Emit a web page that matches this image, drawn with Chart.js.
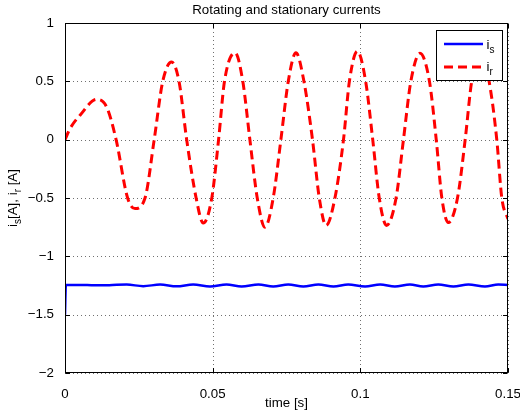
<!DOCTYPE html>
<html>
<head>
<meta charset="utf-8">
<script src="https://cdn.jsdelivr.net/npm/chart.js@4.4.1/dist/chart.umd.min.js"></script>
<style>
  html, body { margin: 0; padding: 0; background: #fff; }
  canvas { display: block; }
</style>
</head>
<body>
<canvas id="currents" width="520" height="418"></canvas>
<script>
const FONT = '"Liberation Sans", Arial, Helvetica, sans-serif';

// stationary current i_s [A]
const timeS = [0, 0.0003, 0.005, 0.010, 0.015, 0.0209, 0.0265, 0.0322, 0.0378, 0.0434, 0.0491,
  0.0547, 0.0598, 0.0655, 0.0705, 0.0756, 0.0807, 0.0858, 0.0909, 0.0959, 0.1016, 0.1067,
  0.1117, 0.1168, 0.1213, 0.1264, 0.1315, 0.1366, 0.1422, 0.1467, 0.15];
const currentS = [-1.5, -1.245, -1.245, -1.248, -1.247, -1.242, -1.256, -1.242, -1.257, -1.242, -1.258,
  -1.242, -1.258, -1.242, -1.258, -1.242, -1.258, -1.242, -1.258, -1.242, -1.258, -1.242,
  -1.258, -1.242, -1.258, -1.242, -1.258, -1.242, -1.258, -1.242, -1.246];

// rotating current i_r [A]
const timeR = [0, 0.0017, 0.0051, 0.0107, 0.0141, 0.0173, 0.0212, 0.0237, 0.0271, 0.0302,
  0.0331, 0.0361, 0.0386, 0.0412, 0.0444, 0.0468, 0.0497, 0.052, 0.054, 0.0576,
  0.0602, 0.0626, 0.0651, 0.0677, 0.0705, 0.0731, 0.0756, 0.0782, 0.0809, 0.0838,
  0.0861, 0.0884, 0.0914, 0.0943, 0.0963, 0.099, 0.1018, 0.1042, 0.1064, 0.1089,
  0.1121, 0.1146, 0.1171, 0.1202, 0.1234, 0.1257, 0.1276, 0.1298, 0.1329, 0.1355,
  0.1377, 0.1405, 0.1436, 0.1462, 0.1479, 0.15];
const currentR = [0, 0.095, 0.21, 0.345, 0.28, 0, -0.5, -0.59, -0.5, 0,
  0.5, 0.665, 0.5, 0, -0.5, -0.715, -0.5, 0, 0.5, 0.745,
  0.5, 0, -0.5, -0.75, -0.5, 0, 0.5, 0.745, 0.5, 0,
  -0.5, -0.735, -0.5, 0, 0.5, 0.757, 0.5, 0, -0.5, -0.735,
  -0.5, 0, 0.5, 0.74, 0.5, 0, -0.5, -0.71, -0.5, 0,
  0.5, 0.76, 0.5, 0, -0.5, -0.68];

const xTicks = [0, 0.05, 0.1, 0.15];
const yTicks = [-2, -1.5, -1, -0.5, 0, 0.5, 1];

const BLUE = '#0000ff';
const RED = '#ff0000';
const RED_DASH = [9, 5];

function toPoints(xs, ys) {
  return xs.map((x, i) => ({ x, y: ys[i] }));
}

function fmtTick(value) {
  const v = Math.round(value * 1000) / 1000;
  return v < 0 ? '\u2212' + String(-v) : String(v);
}

// draws a run of text pieces, some of them lowered as subscripts
function drawRich(ctx, parts, x, y, align) {
  const big = `13.3px ${FONT}`;
  const small = `10px ${FONT}`;
  let total = 0;
  parts.forEach((p) => {
    ctx.font = p.sub ? small : big;
    total += ctx.measureText(p.t).width;
  });
  let cx = align === 'center' ? x - total / 2 : x;
  ctx.textAlign = 'left';
  ctx.textBaseline = 'alphabetic';
  parts.forEach((p) => {
    ctx.font = p.sub ? small : big;
    ctx.fillText(p.t, cx, p.sub ? y + 4 : y);
    cx += ctx.measureText(p.t).width;
  });
}

// keep the plot box fixed, labels may hang past its edges
function noPadding(s) {
  s.paddingLeft = 0;
  s.paddingRight = 0;
  s.paddingTop = 0;
  s.paddingBottom = 0;
}

const matlabAxes = {
  id: 'matlabAxes',
  beforeDatasetsDraw(chart) {
    const { ctx, chartArea: a, scales } = chart;
    ctx.save();
    ctx.strokeStyle = '#707070';
    ctx.lineWidth = 1;
    ctx.setLineDash([1, 3]);
    xTicks.forEach((v) => {
      const px = Math.round(scales.x.getPixelForValue(v)) + 0.5;
      ctx.beginPath();
      ctx.moveTo(px, a.bottom);
      ctx.lineTo(px, a.top);
      ctx.stroke();
    });
    yTicks.forEach((v) => {
      const py = Math.round(scales.y.getPixelForValue(v)) + 0.5;
      ctx.beginPath();
      ctx.moveTo(a.left, py);
      ctx.lineTo(a.right, py);
      ctx.stroke();
    });
    ctx.restore();
  },
  afterDatasetsDraw(chart) {
    const { ctx, chartArea: a, scales } = chart;
    const L = Math.round(a.left) + 0.5;
    const R = Math.round(a.right) - 0.5;
    const T = Math.round(a.top) + 0.5;
    const B = Math.round(a.bottom) - 0.5;
    const tick = 4.5;
    ctx.save();
    ctx.strokeStyle = '#000';
    ctx.lineWidth = 1;
    ctx.setLineDash([]);
    ctx.strokeRect(L, T, R - L, B - T);
    ctx.beginPath();
    xTicks.forEach((v) => {
      const px = Math.round(scales.x.getPixelForValue(v)) + 0.5;
      ctx.moveTo(px, B); ctx.lineTo(px, B - tick);
      ctx.moveTo(px, T); ctx.lineTo(px, T + tick);
    });
    yTicks.forEach((v) => {
      const py = Math.round(scales.y.getPixelForValue(v)) + 0.5;
      ctx.moveTo(L, py); ctx.lineTo(L + tick, py);
      ctx.moveTo(R, py); ctx.lineTo(R - tick, py);
    });
    ctx.stroke();

    // legend box, top right
    const bx = 436.5, by = 30.5, bw = 66, bh = 50;
    ctx.fillStyle = '#fff';
    ctx.fillRect(bx, by, bw, bh);
    ctx.strokeRect(bx, by, bw, bh);
    ctx.lineCap = 'butt';
    ctx.lineWidth = 2.5;
    ctx.strokeStyle = BLUE;
    ctx.beginPath(); ctx.moveTo(444, 44); ctx.lineTo(483, 44); ctx.stroke();
    ctx.lineWidth = 3;
    ctx.strokeStyle = RED;
    ctx.setLineDash(RED_DASH);
    ctx.beginPath(); ctx.moveTo(444, 67); ctx.lineTo(483, 67); ctx.stroke();
    ctx.setLineDash([]);
    ctx.fillStyle = '#000';
    drawRich(ctx, [{ t: 'i' }, { t: 's', sub: true }], 486.5, 48.5, 'left');
    drawRich(ctx, [{ t: 'i' }, { t: 'r', sub: true }], 486.5, 71, 'left');
    ctx.restore();
  },
  afterDraw(chart) {
    const { ctx, chartArea: a } = chart;
    const cx = (a.left + a.right) / 2;
    ctx.save();
    ctx.fillStyle = '#000';
    ctx.font = `13.3px ${FONT}`;
    ctx.textAlign = 'center';
    ctx.textBaseline = 'alphabetic';
    ctx.fillText('Rotating and stationary currents', cx, 13.5);
    ctx.fillText('time [s]', cx, 406.5);
    ctx.translate(17, (a.top + a.bottom) / 2);
    ctx.rotate(-Math.PI / 2);
    drawRich(ctx, [
      { t: 'i' }, { t: 's', sub: true }, { t: '[A], i' }, { t: 'r', sub: true }, { t: ' [A]' },
    ], 0, 0, 'center');
    ctx.restore();
  },
};

const tickFont = { family: FONT, size: 13.3 };

new Chart(document.getElementById('currents'), {
  type: 'line',
  data: {
    datasets: [
      {
        label: 'i_s',
        data: toPoints(timeS, currentS),
        borderColor: BLUE,
        borderWidth: 2.5,
        pointRadius: 0,
        cubicInterpolationMode: 'monotone',
      },
      {
        label: 'i_r',
        data: toPoints(timeR, currentR),
        borderColor: RED,
        borderWidth: 3,
        borderDash: RED_DASH,
        pointRadius: 0,
        cubicInterpolationMode: 'monotone',
      },
    ],
  },
  options: {
    responsive: false,
    animation: false,
    devicePixelRatio: 1,
    layout: { padding: { top: 23, right: 12, left: 0, bottom: 0 } },
    plugins: {
      legend: { display: false },
      title: { display: false },
      tooltip: { enabled: false },
    },
    scales: {
      x: {
        type: 'linear',
        min: 0,
        max: 0.15,
        afterBuildTicks: (s) => { s.ticks = xTicks.map((value) => ({ value })); },
        afterFit: (s) => { s.height = 45; noPadding(s); },
        ticks: { callback: fmtTick, autoSkip: false, maxRotation: 0, padding: 5, color: '#000', font: tickFont },
        grid: { display: false },
        border: { display: false },
      },
      y: {
        type: 'linear',
        min: -2,
        max: 1,
        afterBuildTicks: (s) => { s.ticks = yTicks.map((value) => ({ value })); },
        afterFit: (s) => { s.width = 65; noPadding(s); },
        ticks: { callback: fmtTick, autoSkip: false, padding: 3, color: '#000', font: tickFont },
        grid: { display: false },
        border: { display: false },
      },
    },
  },
  plugins: [matlabAxes],
});
</script>
</body>
</html>
